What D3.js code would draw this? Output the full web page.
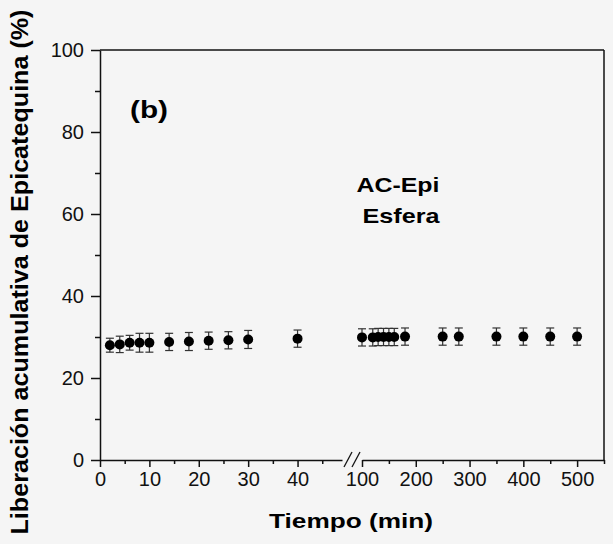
<!DOCTYPE html>
<html>
<head>
<meta charset="utf-8">
<script src="https://cdn.jsdelivr.net/npm/d3@7"></script>
<style>
  body { margin: 0; background: #f5f5f5; }
  svg { display: block; font-family: Arial, "Liberation Sans", sans-serif; }
</style>
</head>
<body>
<svg width="613" height="544"></svg>
<script>
// data
const tiempo = [2, 4, 6, 8, 10, 14, 18, 22, 26, 30, 40,
    100, 120, 130, 140, 150, 160, 180, 250, 280, 350, 400, 450, 500];
const liberacion = [28.0, 28.2, 28.6, 28.6, 28.6, 28.8, 28.9, 29.1, 29.2, 29.4, 29.6,
    29.9, 29.9, 30.0, 30.0, 30.0, 30.0, 30.1, 30.1, 30.1, 30.1, 30.1, 30.1, 30.1];
const error = [1.7, 2.0, 1.8, 2.3, 2.3, 2.1, 2.2, 2.1, 2.1, 2.2, 2.1,
    2.1, 2.1, 2.1, 2.1, 2.1, 2.1, 2.1, 2.1, 2.1, 2.1, 2.1, 2.1, 2.1];
const yTicks = [0, 20, 40, 60, 80, 100];
const xTicksLeft = [0, 10, 20, 30, 40];
const xTicksRight = [100, 200, 300, 400, 500];

const svg = d3.select('svg');

// broken x axis: two scales
const xLeft = d3.scaleLinear().domain([0, 49]).range([100, 342]);
const xRight = d3.scaleLinear().domain([100, 550]).range([362, 604]);
const x = t => t < 100 ? xLeft(t) : xRight(t);
const y = d3.scaleLinear().domain([0, 100]).range([460, 50]);

// frame top / right
svg.append('line').attr('x1', 100).attr('x2', 604).attr('y1', 50).attr('y2', 50)
    .attr('stroke', '#111').attr('stroke-width', 1.5);
svg.append('line').attr('x1', 604).attr('x2', 604).attr('y1', 50).attr('y2', 460)
    .attr('stroke', '#111').attr('stroke-width', 1.5);

// y axis
svg.append('g').attr('transform', 'translate(100,0)')
    .call(d3.axisLeft(y).tickValues(yTicks).tickSize(9).tickSizeOuter(0).tickPadding(7));
svg.append('g').attr('transform', 'translate(100,0)')
    .call(d3.axisLeft(y).tickValues([10, 30, 50, 70, 90]).tickSize(5).tickFormat(''))
    .select('.domain').remove();

// x axis left part
svg.append('g').attr('transform', 'translate(0,460)')
    .call(d3.axisBottom(xLeft).tickValues(xTicksLeft).tickSize(7).tickSizeOuter(0).tickPadding(5));
svg.append('g').attr('transform', 'translate(0,460)')
    .call(d3.axisBottom(xLeft).tickValues([5, 15, 25, 35, 45]).tickSize(4).tickFormat(''))
    .select('.domain').remove();

// x axis right part
svg.append('g').attr('transform', 'translate(0,460)')
    .call(d3.axisBottom(xRight).tickValues(xTicksRight).tickSize(7).tickSizeOuter(0).tickPadding(5));
svg.append('g').attr('transform', 'translate(0,460)')
    .call(d3.axisBottom(xRight).tickValues([150, 250, 350, 450, 550]).tickSize(4).tickFormat(''))
    .select('.domain').remove();

svg.selectAll('.domain, .tick line').attr('stroke', '#111').attr('stroke-width', 1.5);
svg.selectAll('.tick text').attr('fill', '#111').style('font-size', '20px');

// break marks
[344, 352].forEach(bx => {
    svg.append('line').attr('x1', bx).attr('y1', 467).attr('x2', bx + 8).attr('y2', 452)
        .attr('stroke', '#111').attr('stroke-width', 1.3);
});

// error bars
const pts = tiempo.map((t, i) => ({ t, v: liberacion[i], e: error[i] }));
const eb = svg.append('g').attr('stroke', '#333').attr('stroke-width', 1.2);
eb.selectAll('.v').data(pts).enter().append('line')
    .attr('x1', d => x(d.t)).attr('x2', d => x(d.t))
    .attr('y1', d => y(d.v + d.e)).attr('y2', d => y(d.v - d.e));
eb.selectAll('.top').data(pts).enter().append('line')
    .attr('x1', d => x(d.t) - 4).attr('x2', d => x(d.t) + 4)
    .attr('y1', d => y(d.v + d.e)).attr('y2', d => y(d.v + d.e));
eb.selectAll('.bot').data(pts).enter().append('line')
    .attr('x1', d => x(d.t) - 4).attr('x2', d => x(d.t) + 4)
    .attr('y1', d => y(d.v - d.e)).attr('y2', d => y(d.v - d.e));

svg.append('g').selectAll('circle').data(pts).enter().append('circle')
    .attr('cx', d => x(d.t)).attr('cy', d => y(d.v)).attr('r', 5)
    .attr('fill', '#000');

// labels (stretched a bit wider, like the original)
function label(txt, px, py, size, len, anchor) {
    return svg.append('text').attr('x', px).attr('y', py).attr('text-anchor', anchor || 'middle')
        .style('font-size', size + 'px').style('font-weight', 'bold')
        .attr('textLength', len).attr('lengthAdjust', 'spacingAndGlyphs').text(txt);
}
label('Tiempo (min)', 351, 528, 21, 164);
label('(b)', 130, 118, 23, 38, 'start');
label('AC-Epi', 398, 192, 21, 83);
label('Esfera', 401, 223, 21, 77);

svg.append('text').attr('transform', 'translate(28,272) rotate(-90)').attr('text-anchor', 'middle')
    .style('font-size', '24px').style('font-weight', 'bold')
    .attr('textLength', 525).attr('lengthAdjust', 'spacingAndGlyphs')
    .text('Liberación acumulativa de Epicatequina (%)');
</script>
</body>
</html>
